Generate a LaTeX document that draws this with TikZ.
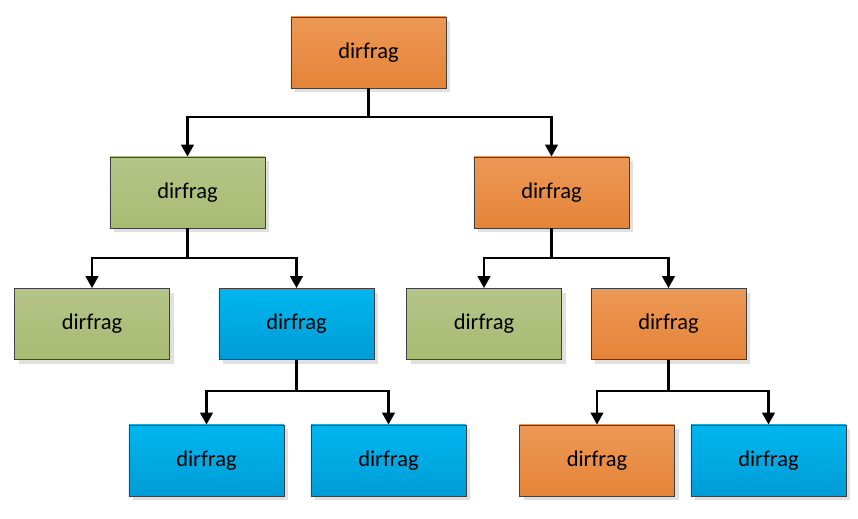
\documentclass[tikz,border=0pt]{standalone}
\usepackage{fontspec}
\setmainfont{Carlito}
\usetikzlibrary{arrows.meta,shadows}
\definecolor{orangetop}{RGB}{236,152,86}
\definecolor{orangebot}{RGB}{229,132,56}
\definecolor{greentop}{RGB}{181,196,136}
\definecolor{greenbot}{RGB}{168,187,114}
\definecolor{bluetop}{RGB}{0,182,238}
\definecolor{bluebot}{RGB}{0,156,214}
\definecolor{boxline}{RGB}{64,64,64}
\begin{document}
\begin{tikzpicture}[x=0.025cm, y=-0.025cm, box/.style={rectangle, draw=boxline, line width=0.6pt, minimum width=3.875cm, minimum height=1.775cm, top color=#1top, bottom color=#1bot, font=\fontsize{16}{19}\selectfont, drop shadow={shadow xshift=0.11cm, shadow yshift=-0.11cm, fill=black!12, opacity=1}}, box/.default=orange, link/.style={line width=1.5pt, -{Triangle[width=9pt,length=8.5pt]}}]
\useasboundingbox (0,0) rectangle (858,519);

\node [box] (root) at (368.5, 52.5) {dirfrag};
\node [box=green] (l) at (187.5, 192.5) {dirfrag};
\node [box] (r) at (551.5, 192.5) {dirfrag};
\node [box=green] (ll) at (92, 324) {dirfrag};
\node [box=blue] (lr) at (296.5, 324) {dirfrag};
\node [box=green] (rl) at (484, 324) {dirfrag};
\node [box] (rr) at (668.5, 324) {dirfrag};
\node [box=blue] (lrl) at (206.5, 460.5) {dirfrag};
\node [box=blue] (lrr) at (388.5, 460.5) {dirfrag};
\node [box] (rrl) at (597, 460.5) {dirfrag};
\node [box=blue] (rrr) at (768.5, 460.5) {dirfrag};

\draw[link] (root.south) -- ++(0,29) -| (l.north);
\draw[link] (root.south) -- ++(0,29) -| (r.north);
\draw[link] (l.south) -- ++(0,30) -| (ll.north);
\draw[link] (l.south) -- ++(0,30) -| (lr.north);
\draw[link] (r.south) -- ++(0,30) -| (rl.north);
\draw[link] (r.south) -- ++(0,30) -| (rr.north);
\draw[link] (lr.south) -- ++(0,31) -| (lrl.north);
\draw[link] (lr.south) -- ++(0,31) -| (lrr.north);
\draw[link] (rr.south) -- ++(0,31) -| (rrl.north);
\draw[link] (rr.south) -- ++(0,31) -| (rrr.north);

\end{tikzpicture}
\end{document}
